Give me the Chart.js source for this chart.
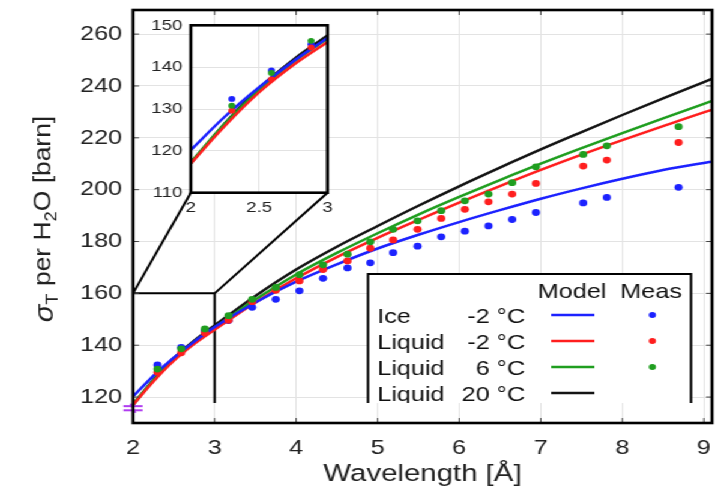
<!DOCTYPE html>
<html>
<head>
<meta charset="utf-8">
<script src="https://cdn.jsdelivr.net/npm/chart.js@4.4.1/dist/chart.umd.min.js"></script>
<style>
  html, body { margin: 0; padding: 0; background: #fff; overflow: hidden; }
  #stage { position: absolute; left: 0; top: 0; width: 603px; height: 495px;
           transform-origin: 0 0; transform: scaleX(1.2007); }
  #mainBox { position: absolute; left: 0; top: 0; width: 603px; height: 495px; }
  #insetBox { position: absolute; left: 118px; top: 12px; width: 165px; height: 205px; }
</style>
</head>
<body>
<div id="stage">
  <div id="mainBox"><canvas id="mainChart"></canvas></div>
  <div id="insetBox"><canvas id="insetChart"></canvas></div>
</div>
<script>
// ---- model curves: total cross section per H2O vs neutron wavelength ----
const wavelengthModel = [2, 2.25, 2.5, 2.75, 3, 3.5, 4, 4.5, 5, 5.5, 6, 6.5, 7, 7.5, 8, 8.5, 9, 9.1];
const modelIceM2 = [120.2, 128.2, 135.2, 141.4, 147.0, 156.5, 164.5, 171.2, 177.3, 182.6, 187.5, 192.1, 196.5, 200.5, 204.2, 207.6, 210.3, 210.8];
const modelLiqM2 = [117.0, 126.0, 134.0, 140.5, 146.0, 156.5, 165.8, 174.0, 181.4, 188.3, 195.0, 201.4, 207.6, 213.5, 219.1, 224.5, 229.8, 230.8];
const modelLiq6  = [117.3, 126.5, 134.6, 141.2, 146.8, 157.6, 167.3, 175.6, 183.2, 190.4, 197.2, 203.7, 210.0, 216.0, 221.8, 227.5, 233.1, 234.2];
const modelLiq20 = [117.0, 126.6, 135.0, 141.8, 147.6, 159.0, 169.2, 178.0, 186.0, 193.8, 201.3, 208.5, 215.5, 222.2, 228.8, 235.2, 241.5, 242.8];

// ---- measurements ----
const wavelengthMeas = [2.30, 2.59, 2.88, 3.17, 3.46, 3.75, 4.04, 4.33, 4.63, 4.91, 5.19, 5.49, 5.78, 6.07, 6.36, 6.65, 6.94, 7.52, 7.81, 8.69];
const measIceM2 = [132.4, 139.2, 145.5, 149.5, 154.6, 157.7, 161.0, 165.8, 169.8, 171.8, 175.7, 178.2, 181.8, 184.0, 186.0, 188.5, 191.2, 194.9, 197.0, 200.9];
const measLiqM2 = [129.6, 137.1, 144.7, 149.6, 156.8, 161.2, 164.8, 169.2, 172.5, 177.4, 180.6, 184.7, 188.9, 192.4, 195.3, 198.3, 202.4, 209.1, 211.4, 218.2];
const measLiq6  = [130.8, 138.6, 146.3, 151.4, 157.7, 162.3, 167.2, 171.0, 175.1, 179.9, 184.7, 188.0, 191.9, 195.7, 198.3, 202.7, 208.8, 213.6, 216.9, 224.3];

// reference marker at 2 Å
const refMarkX = [2, 2];
const refMarkY = [116.5, 114.9];

// ---- axes ----
const xTicks = [2, 3, 4, 5, 6, 7, 8, 9];
const yTicks = [120, 140, 160, 180, 200, 220, 240, 260];
const insetXTicks = [2, 2.5, 3];
const insetYTicks = [110, 120, 130, 140, 150];

// ---- legend ----
const legendPhase = ['Ice', 'Liquid', 'Liquid', 'Liquid'];
const legendTemp  = ['-2 °C', '-2 °C', '6 °C', '20 °C'];

const COL_BLUE = '#1c22ff', COL_RED = '#ff1e1e', COL_GREEN = '#1f9e1f', COL_BLACK = '#141414';
const legendColors = [COL_BLUE, COL_RED, COL_GREEN, COL_BLACK];
const legendHasMeas = [true, true, true, false];
const FONT = "'Liberation Sans', Arial, Helvetica, sans-serif";

const pts = (xs, ys) => xs.map((x, i) => ({ x: x, y: ys[i] }));

function lineSet(ys, color) {
  return { type: 'line', data: pts(wavelengthModel, ys), borderColor: color, borderWidth: 2.5,
           pointRadius: 0, fill: false, cubicInterpolationMode: 'monotone' };
}
function dotSet(ys, color, r) {
  return { type: 'scatter', data: pts(wavelengthMeas, ys), backgroundColor: color, borderWidth: 0,
           pointRadius: r, pointStyle: 'circle', showLine: false };
}

// the first dataset is painted last (on top)
function buildDatasets(dotR, withRef) {
  const sets = [
    dotSet(measLiq6, COL_GREEN, dotR),
    dotSet(measLiqM2, COL_RED, dotR),
    dotSet(measIceM2, COL_BLUE, dotR)
  ];
  if (withRef) {
    sets.push({ type: 'scatter', data: pts(refMarkX, refMarkY), pointStyle: 'line', pointRadius: 8,
                borderColor: '#b03cf0', borderWidth: 2, showLine: false, clip: false });
    sets.push({ type: 'scatter', data: [{ x: refMarkX[0], y: (refMarkY[0] + refMarkY[1]) / 2 }],
                pointStyle: 'line', pointRadius: 5, rotation: 65,
                borderColor: '#b03cf0', borderWidth: 1.6, showLine: false, clip: false });
  }
  sets.push(lineSet(modelIceM2, COL_BLUE));
  sets.push(lineSet(modelLiqM2, COL_RED));
  sets.push(lineSet(modelLiq6, COL_GREEN));
  sets.push(lineSet(modelLiq20, COL_BLACK));
  return sets;
}

function fixX(h) {
  return s => { s.height = h; s.paddingLeft = 0; s.paddingRight = 0; s.paddingTop = 0; s.paddingBottom = 0; };
}
function fixY(w) {
  return s => { s.width = w; s.paddingLeft = 0; s.paddingRight = 0; s.paddingTop = 0; s.paddingBottom = 0; };
}

Chart.defaults.animation = false;
Chart.defaults.font.family = FONT;

// ---------------- inset (2–3 Å zoom) ----------------
const insetFrame = {
  id: 'insetFrame',
  beforeDraw(chart) {
    const a = chart.chartArea, ctx = chart.ctx;
    ctx.save();
    ctx.fillStyle = '#fff';
    ctx.fillRect(a.left, a.top, a.right - a.left, a.bottom - a.top);
    ctx.restore();
  },
  afterDraw(chart) {
    const a = chart.chartArea, ctx = chart.ctx;
    ctx.save();
    ctx.strokeStyle = '#000';
    ctx.lineWidth = 2.6;
    ctx.strokeRect(a.left, a.top, a.right - a.left, a.bottom - a.top);
    ctx.restore();
  }
};

const insetChart = new Chart(document.getElementById('insetChart'), {
  data: { datasets: buildDatasets(2.9, false) },
  options: {
    responsive: true, maintainAspectRatio: false, events: [],
    layout: { padding: { top: 13.3, right: 10.25, left: 0, bottom: 0 } },
    plugins: { legend: { display: false }, tooltip: { enabled: false } },
    scales: {
      x: {
        type: 'linear', min: 2, max: 3,
        afterBuildTicks: s => { s.ticks = insetXTicks.map(v => ({ value: v })); },
        afterFit: fixX(24.3),
        grid: { color: '#e2e2e2', lineWidth: 1, drawTicks: false },
        border: { display: false },
        ticks: { font: { size: 15.5 }, color: '#222', padding: 6, maxRotation: 0, autoSkip: false,
                 callback: v => String(v) }
      },
      y: {
        type: 'linear', min: 110, max: 150,
        afterBuildTicks: s => { s.ticks = insetYTicks.map(v => ({ value: v })); },
        afterFit: fixY(40.9),
        grid: { color: '#e2e2e2', lineWidth: 1, drawTicks: false },
        border: { display: false },
        ticks: { font: { size: 15.5 }, color: '#222', padding: 7, autoSkip: false,
                 callback: v => String(v) }
      }
    }
  },
  plugins: [insetFrame]
});

// ---------------- main chart ----------------
const INSET_LEFT = 118, INSET_TOP = 12;

// rotated y title with subscripts: σ_T per H_2O [barn]
function drawRotatedTitle(ctx, cx, cy) {
  const parts = [
    { t: '\u03C3', f: 'italic 22px ' + FONT, dy: 2 },
    { t: 'T', f: '14px ' + FONT, dy: 6 },
    { t: ' per H', f: '20px ' + FONT, dy: 0 },
    { t: '2', f: '14px ' + FONT, dy: 5 },
    { t: 'O [barn]', f: '20px ' + FONT, dy: 0 }
  ];
  ctx.save();
  ctx.translate(cx, cy);
  ctx.rotate(-Math.PI / 2);
  ctx.scale(1.32, 1);
  let total = 0;
  parts.forEach(p => { ctx.font = p.f; p.w = ctx.measureText(p.t).width; total += p.w; });
  let x = -total / 2;
  ctx.fillStyle = '#222';
  ctx.textBaseline = 'alphabetic';
  ctx.textAlign = 'left';
  parts.forEach(p => { ctx.font = p.f; ctx.fillText(p.t, x, 7 + p.dy); x += p.w; });
  ctx.restore();
}

const mainFrame = {
  id: 'mainFrame',
  beforeDraw(chart) {
    const ctx = chart.ctx;
    ctx.save();
    ctx.fillStyle = '#fff';
    ctx.fillRect(0, 0, chart.width, chart.height);
    ctx.restore();
  },
  beforeDatasetsDraw(chart) {
    // zoomed region 2–3 Å and leader lines to the inset
    const { ctx, scales: { x, y } } = chart;
    const x2 = x.getPixelForValue(2), x3 = x.getPixelForValue(3), y160 = y.getPixelForValue(160);
    const ia = insetChart.chartArea;
    ctx.save();
    ctx.strokeStyle = '#000';
    ctx.lineWidth = 2;
    ctx.beginPath();
    ctx.moveTo(x2, y160); ctx.lineTo(x3, y160); ctx.lineTo(x3, 403);
    ctx.moveTo(x2, y160); ctx.lineTo(INSET_LEFT + ia.left, INSET_TOP + ia.bottom);
    ctx.moveTo(x3, y160); ctx.lineTo(INSET_LEFT + ia.right, INSET_TOP + ia.bottom);
    ctx.stroke();
    ctx.restore();
  },
  afterDatasetsDraw(chart) {
    const { ctx } = chart;
    // legend box, clipped at its lower edge
    const L = 306.5, T = 274, R = 575.5, B = 403;
    ctx.save();
    ctx.beginPath();
    ctx.rect(L - 3, T - 3, R - L + 6, B - T + 3);
    ctx.clip();
    ctx.fillStyle = '#fff';
    ctx.fillRect(L, T, R - L, B - T + 5);
    ctx.strokeStyle = '#000';
    ctx.lineWidth = 2;
    ctx.beginPath();
    ctx.moveTo(L, B + 5); ctx.lineTo(L, T); ctx.lineTo(R, T); ctx.lineTo(R, B + 5);
    ctx.stroke();

    ctx.font = '21px ' + FONT;
    ctx.fillStyle = '#111';
    ctx.textBaseline = 'alphabetic';
    ctx.textAlign = 'center';
    ctx.fillText('Model', 476.4, 297.5);
    ctx.fillText('Meas', 542.2, 297.5);
    const rowY = [315, 341, 367, 393];
    rowY.forEach((ry, i) => {
      ctx.textAlign = 'left';
      ctx.fillStyle = '#111';
      ctx.fillText(legendPhase[i], 314.2, ry + 7.6);
      ctx.textAlign = 'right';
      ctx.fillText(legendTemp[i], 437.3, ry + 7.6);
      ctx.strokeStyle = legendColors[i];
      ctx.lineWidth = 2.5;
      ctx.beginPath(); ctx.moveTo(459, ry); ctx.lineTo(495, ry); ctx.stroke();
      if (legendHasMeas[i]) {
        ctx.fillStyle = legendColors[i];
        ctx.beginPath(); ctx.arc(543.3, ry, 3.0, 0, Math.PI * 2); ctx.fill();
      }
    });
    ctx.restore();
  },
  afterDraw(chart) {
    const { ctx, chartArea: a, scales: { x, y } } = chart;
    ctx.save();
    // inward tick marks on all four sides
    ctx.strokeStyle = '#444';
    ctx.lineWidth = 1;
    ctx.beginPath();
    xTicks.forEach(v => {
      const p = x.getPixelForValue(v);
      ctx.moveTo(p, a.bottom); ctx.lineTo(p, a.bottom - 5);
      ctx.moveTo(p, a.top); ctx.lineTo(p, a.top + 5);
    });
    yTicks.forEach(v => {
      const p = y.getPixelForValue(v);
      ctx.moveTo(a.left, p); ctx.lineTo(a.left + 5, p);
      ctx.moveTo(a.right, p); ctx.lineTo(a.right - 5, p);
    });
    ctx.stroke();
    // axes box
    ctx.strokeStyle = '#000';
    ctx.lineWidth = 2.6;
    ctx.strokeRect(a.left, a.top, a.right - a.left, a.bottom - a.top);
    // x axis title
    ctx.fillStyle = '#222';
    ctx.font = '24.5px ' + FONT;
    ctx.textAlign = 'center';
    ctx.textBaseline = 'alphabetic';
    ctx.fillText('Wavelength [\u00C5]', (a.left + a.right) / 2, 481);
    ctx.restore();
    drawRotatedTitle(ctx, 35, 219);
  }
};

const mainChart = new Chart(document.getElementById('mainChart'), {
  data: { datasets: buildDatasets(3.4, true) },
  options: {
    responsive: true, maintainAspectRatio: false, events: [],
    layout: { padding: { top: 10, right: 10, left: 0, bottom: 0 } },
    plugins: { legend: { display: false }, tooltip: { enabled: false } },
    scales: {
      x: {
        type: 'linear', min: 2, max: 9.1,
        afterBuildTicks: s => { s.ticks = xTicks.map(v => ({ value: v })); },
        afterFit: fixX(72),
        grid: { color: '#e3e3e3', lineWidth: 1, drawTicks: false },
        border: { display: false },
        ticks: { font: { size: 21 }, color: '#222', padding: 13, maxRotation: 0, autoSkip: false,
                 callback: v => String(v) }
      },
      y: {
        type: 'linear', min: 110, max: 269.3,
        afterBuildTicks: s => { s.ticks = yTicks.map(v => ({ value: v })); },
        afterFit: fixY(110.8),
        grid: { color: '#e3e3e3', lineWidth: 1, drawTicks: false },
        border: { display: false },
        ticks: { font: { size: 21 }, color: '#222', padding: 9, autoSkip: false,
                 callback: v => String(v) }
      }
    }
  },
  plugins: [mainFrame]
});
</script>
</body>
</html>
